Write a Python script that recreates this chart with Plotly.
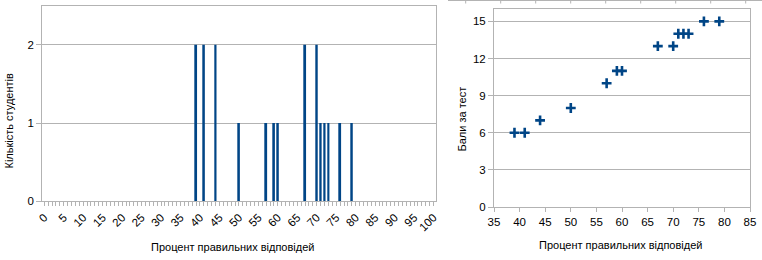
import plotly.graph_objects as go

# ---- data ----
hist_pct = [39, 41, 44, 50, 57, 59, 60, 67, 70, 71, 72, 73, 76, 79]
hist_count = [2, 2, 2, 1, 1, 1, 1, 2, 2, 1, 1, 1, 1, 1]

scat_pct = [39, 41, 44, 50, 57, 59, 60, 67, 70, 71, 72, 73, 76, 79]
scat_score = [6, 6, 7, 8, 10, 11, 11, 13, 13, 14, 14, 14, 15, 15]

left_xticks = list(range(0, 101, 5))
right_xticks = list(range(35, 86, 5))
right_yticks = list(range(0, 16, 3))
left_yticks = [0, 1, 2]

x_title = "Процент правильних відповідей"
y_title_left = "Кількість студентів"
y_title_right = "Бали за тест"

W, H = 762, 260
BLUE = "#004586"
GRID = "#b3b3b3"
FONT = "Liberation Sans"
TICK_SIZE = 11.5
TITLE_SIZE = 11


def px(x):
    return x / W


def py(y):
    return 1 - y / H


fig = go.Figure()
fig.add_trace(go.Bar(x=hist_pct, y=hist_count, width=0.5,
                     marker=dict(color=BLUE, line=dict(width=0)),
                     xaxis="x", yaxis="y", showlegend=False))
fig.add_trace(go.Scatter(x=scat_pct, y=scat_score, mode="markers",
                         marker=dict(symbol="cross-thin-open", size=7,
                                     line=dict(color=BLUE, width=2.6),
                                     color=BLUE),
                         xaxis="x2", yaxis="y2", showlegend=False))

axis_common = dict(showline=True, linecolor=GRID, linewidth=1, mirror=True,
                   gridcolor=GRID, gridwidth=1, zeroline=False,
                   ticks="outside", tickcolor=GRID, ticklen=4,
                   tickfont=dict(family=FONT, size=TICK_SIZE, color="#000"),
                   fixedrange=True, automargin=False)

title_font = dict(family=FONT, size=TITLE_SIZE, color="#000")

fig.update_layout(
    width=W, height=H,
    margin=dict(l=0, r=0, t=0, b=0, autoexpand=False),
    paper_bgcolor="white", plot_bgcolor="white",
    font=dict(family=FONT, size=12, color="#000"),
    xaxis=dict(axis_common, domain=[px(42.3), px(435.5)], anchor="y",
               range=[-0.5, 100.5], tickmode="array", tickvals=left_xticks,
               tickangle=-45, showgrid=False,
               minor=dict(ticks="outside", dtick=1, tick0=0, ticklen=4,
                          tickcolor=GRID, showgrid=False)),
    yaxis=dict(axis_common, domain=[py(201.3), py(5.7)], anchor="x",
               range=[0, 2.5], tickmode="array", tickvals=left_yticks,
               ticklen=5),
    xaxis2=dict(axis_common, domain=[px(494), px(750)], anchor="y2",
                range=[35, 85], tickmode="array", tickvals=right_xticks,
                showgrid=False),
    yaxis2=dict(axis_common, domain=[py(207), py(9)], anchor="x2",
                range=[0, 16], tickmode="array", tickvals=right_yticks,
                ticklen=5),
    bargap=0.5,
    annotations=[
        dict(text=x_title, x=px(232), y=py(247), xref="paper", yref="paper",
             xanchor="center", yanchor="middle",
             showarrow=False, font=title_font),
        dict(text=x_title, x=px(620), y=py(245), xref="paper", yref="paper",
             xanchor="center", yanchor="middle",
             showarrow=False, font=title_font),
        dict(text=y_title_left, x=px(8.5), y=py(121), xref="paper", yref="paper",
             xanchor="center", yanchor="middle",
             showarrow=False, textangle=-90, font=title_font),
        dict(text=y_title_right, x=px(462), y=py(119.5), xref="paper", yref="paper",
             xanchor="center", yanchor="middle",
             showarrow=False, textangle=-90, font=title_font),
    ],
)

# cropped bottom edge of a chart above (decoration)
shapes = [dict(type="line", xref="paper", yref="paper", x0=px(448), x1=1,
               y0=py(0.5), y1=py(0.5), line=dict(color=GRID, width=1))]
for k in range(9):
    xx = 465.7 + 35 * k
    shapes.append(dict(type="line", xref="paper", yref="paper", x0=px(xx), x1=px(xx),
                       y0=py(0), y1=py(3.5), line=dict(color=GRID, width=1)))
fig.update_layout(shapes=shapes)

fig.write_html("out.html")
